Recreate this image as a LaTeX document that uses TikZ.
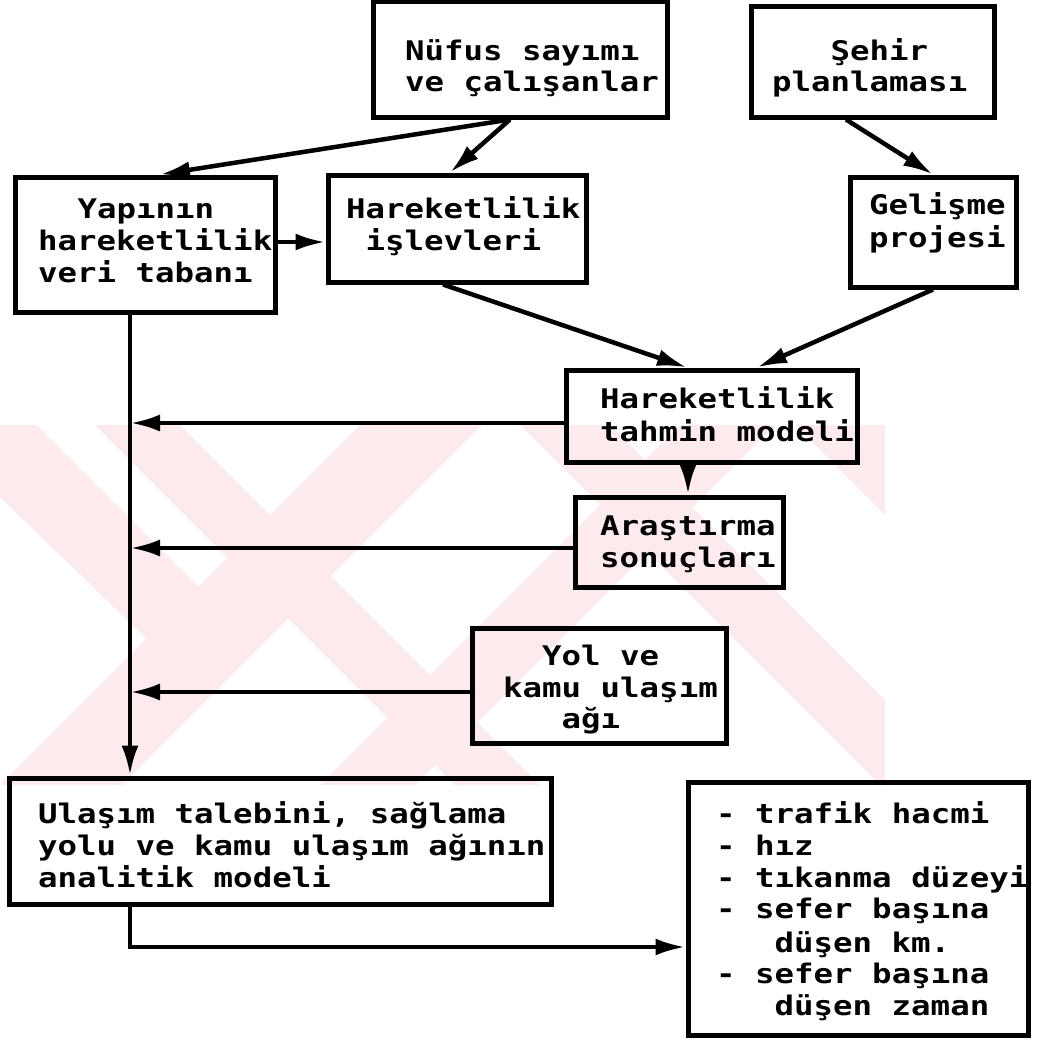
\documentclass[tikz,border=0pt]{standalone}
\usepackage{fontspec}
\newfontfamily\dmfont{DejaVu Sans Mono}[FakeStretch=1.2]
\usetikzlibrary{arrows.meta,calc}
\definecolor{wmpink}{RGB}{253,234,237}
\tikzset{
  box/.style={draw, line width=5pt, inner sep=0pt, rectangle},
  txt/.style={anchor=base west, inner sep=0pt, font=\dmfont\bfseries\fontsize{27}{32}\selectfont},
  arr/.style={line width=4.5pt, -{Latex[length=30pt,width=17pt]}},
  wm/.style={fill=wmpink}
}
\begin{document}
\begin{tikzpicture}[x=1pt,y=-1pt]
\useasboundingbox (0,0) rectangle (1036,1041);
% watermark
\begin{scope}
\clip (0,425) rectangle (885,785);
\fill[wm] (-75,425) -- (37,425) -- (210,598) -- (150,642) -- cycle;
\fill[wm] (95,425) -- (180,425) -- (540,785) -- (455,785) -- cycle;
\fill[wm] (360,425) -- (482,425) -- (122,785) -- (0,785) -- cycle;
\fill[wm] (520,425) -- (610,425) -- (970,785) -- (880,785) -- cycle;
\fill[wm] (680,425) -- (775,425) -- (415,785) -- (320,785) -- cycle;
\fill[wm] (795,425) -- (885,425) -- (1245,785) -- (1155,785) -- cycle;
\end{scope}
% boxes
\node[box, minimum width=294pt, minimum height=115pt] (nufus) at (520,59.5) {};
\node[box, minimum width=243pt, minimum height=110pt] (seh) at (872.5,62) {};
\node[box, minimum width=260pt, minimum height=135pt] (yap) at (145,244.5) {};
\node[box, minimum width=258pt, minimum height=107pt] (isl) at (457,228.5) {};
\node[box, minimum width=166pt, minimum height=110pt] (gel) at (933,232) {};
\node[box, minimum width=291pt, minimum height=92pt] (tahmin) at (711.5,416) {};
\node[box, minimum width=208pt, minimum height=90pt] (ara) at (679,542) {};
\node[box, minimum width=254pt, minimum height=115pt] (yol) at (599,685.5) {};
\node[box, minimum width=542pt, minimum height=126pt] (ulas) at (280,841) {};
\node[box, minimum width=340pt, minimum height=253pt] (list) at (858,908.5) {};
% texts
\node[txt] (nufusA) at (405,60) {Nüfus sayımı};
\node[txt] (nufusB) at (405,91) {ve çalışanlar};
\node[txt] (sehA) at (830.5,60) {Şehir};
\node[txt] (sehB) at (772,91) {planlaması};
\node[txt] (yapA) at (77.5,218) {Yapının};
\node[txt] (yapB) at (38,250) {hareketlilik};
\node[txt] (yapC) at (38,282) {veri tabanı};
\node[txt] (islA) at (346,218) {Hareketlilik};
\node[txt] (islB) at (365.5,250) {işlevleri};
\node[txt] (gelA) at (869,214) {Gelişme};
\node[txt] (gelB) at (869,247) {projesi};
\node[txt] (tahA) at (600,408) {Hareketlilik};
\node[txt] (tahB) at (600,441) {tahmin modeli};
\node[txt] (araA) at (600,535) {Araştırma};
\node[txt] (araB) at (600,567) {sonuçları};
\node[txt] (yolA) at (542,665) {Yol ve};
\node[txt] (yolB) at (503,697) {kamu ulaşım};
\node[txt] (yolC) at (561.5,728) {ağı};
\node[txt] (ulasA) at (38,823) {Ulaşım talebini, sağlama};
\node[txt] (ulasB) at (38,855) {yolu ve kamu ulaşım ağının};
\node[txt] (ulasC) at (38,887) {analitik modeli};
\node[txt] (listA) at (716,823) {- trafik hacmi};
\node[txt] (listB) at (716,855) {- hız};
\node[txt] (listC) at (716,887) {- tıkanma düzeyi};
\node[txt] (listD) at (716,918) {- sefer başına};
\node[txt] (listE) at (774.5,952) {düşen km.};
\node[txt] (listF) at (716,983) {- sefer başına};
\node[txt] (listG) at (774.5,1015) {düşen zaman};
% connectors
\draw[arr] ([xshift=-10pt]nufus.south) -- ([xshift=15pt]yap.north);
\draw[arr] ([xshift=-10pt]nufus.south) -- ([xshift=-7pt]isl.north);
\draw[arr] ([yshift=2.5pt]yap.east) -- ([yshift=2.5pt]yap.east -| isl.west);
\draw[arr] ([xshift=-26.5pt]seh.south) -- (gel.north);
\draw[arr] ([xshift=-14pt]isl.south) -- ([xshift=-24.5pt]tahmin.north);
\draw[arr] (gel.south) -- ([xshift=45.5pt]tahmin.north);
\draw[arr] ([xshift=-23.5pt]tahmin.south) -- ([xshift=-23.5pt]tahmin.south |- ara.north);
\coordinate (trunk) at ([xshift=-15pt]yap.south);
\draw[arr] (trunk) -- (trunk |- ulas.north);
\draw[arr] ([yshift=-7pt]tahmin.west) -- ([yshift=-7pt]tahmin.west -| trunk);
\draw[arr] ([yshift=-6pt]ara.west) -- ([yshift=-6pt]ara.west -| trunk);
\draw[arr] ([yshift=-6.5pt]yol.west) -- ([yshift=-6.5pt]yol.west -| trunk);
\draw[arr] ([xshift=-150pt]ulas.south) |- ([yshift=-38.5pt]list.west);
\end{tikzpicture}
\end{document}
